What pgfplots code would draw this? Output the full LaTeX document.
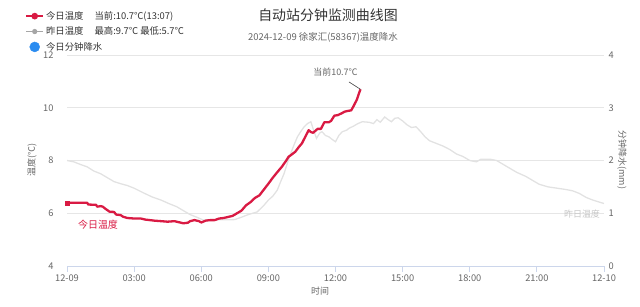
\documentclass[border=0pt]{standalone}
\usepackage{fontspec}
\setmainfont{Noto Sans CJK SC}
\usepackage{pgfplots}
\pgfplotsset{compat=1.18}
\definecolor{todayred}{HTML}{D91A43}
\definecolor{yestgray}{HTML}{E2E2E2}
\definecolor{gridc}{HTML}{E6E6E6}
\definecolor{axisc}{HTML}{CCD6EB}
\definecolor{txt}{HTML}{666666}
\definecolor{dark}{HTML}{333333}
\definecolor{rainblue}{HTML}{2B8CF0}
\begin{document}
\begin{tikzpicture}
\path[use as bounding box] (0bp,0bp) rectangle (640bp,307bp);
\begin{axis}[at={(67bp,41bp)}, anchor=south west, scale only axis,
  width=537bp, height=211bp,
  xmin=0, xmax=24, ymin=4, ymax=12,
  xtick={0,3,6,9,12,15,18,21,24},
  xticklabels={12-09,03:00,06:00,09:00,12:00,15:00,18:00,21:00,12-10},
  ytick={4,6,8,10,12},
  /pgf/number format/assume math mode=true,
  axis line style={draw=none},
  xtick pos=lower, ytick pos=left,
  xtick align=outside,
  major tick length=6bp,
  x tick style={axisc, line width=0.8bp},
  y tick style={draw=none},
  ymajorgrids, grid style={gridc, line width=0.8bp},
  xticklabel style={font=\fontsize{9.3}{10}\selectfont, text=txt, yshift=1bp},
  yticklabel style={font=\fontsize{9.3}{10}\selectfont, text=txt, xshift=-10bp},
  clip=false,
  legend style={at={(-0.078,1.217)}, anchor=north west, draw=none, fill=none,
    font=\fontsize{9.4}{10.5}\selectfont, text=dark, row sep=2bp,
    cells={anchor=west}, inner sep=0pt},
  legend cell align=left,
]
\addlegendimage{todayred, line width=1.8bp, mark=*, mark size=2.4bp}
\addlegendentry{今日温度\hspace{11bp}当前:10.7℃(13:07)}
\addlegendimage{black!35, line width=1.2bp, mark=*, mark size=2bp}
\addlegendentry{昨日温度\hspace{11bp}最高:9.7℃ 最低:5.7℃}
\addlegendimage{only marks, mark=*, rainblue, mark size=5bp}
\addlegendentry{今日分钟降水}
\draw[axisc, line width=0.8bp] (axis cs:0,4) -- (axis cs:24,4);
% yesterday
\addplot[yestgray, line width=1.3bp, forget plot] coordinates {
(0.0,8.00)(0.3,7.95)(0.6,7.85)(0.9,7.76)(1.2,7.60)(1.5,7.50)(1.8,7.35)(2.1,7.20)
(2.4,7.12)(2.7,7.05)(3.0,6.95)(3.4,6.78)(3.8,6.62)(4.2,6.50)(4.6,6.35)(4.9,6.25)
(5.2,6.10)(5.5,5.95)(5.8,5.85)(6.1,5.74)(6.5,5.75)(7.0,5.75)(7.5,5.76)(7.8,5.85)
(8.1,5.95)(8.5,6.05)(8.8,6.30)(9.0,6.50)(9.2,6.65)(9.4,6.88)(9.55,7.20)(9.7,7.50)
(9.85,7.90)(10.0,8.27)(10.15,8.60)(10.3,8.90)(10.45,9.10)(10.6,9.28)(10.75,9.40)
(10.9,9.47)(11.0,9.20)(11.15,8.84)(11.3,9.05)(11.4,9.09)(11.55,8.95)(11.7,8.90)
(11.85,8.80)(12.0,8.71)(12.15,8.95)(12.3,9.09)(12.5,9.15)(12.6,9.22)(12.8,9.30)
(13.0,9.40)(13.2,9.47)(13.5,9.45)(13.7,9.40)(13.85,9.55)(14.0,9.45)(14.2,9.65)
(14.35,9.55)(14.5,9.47)(14.65,9.60)(14.8,9.62)(15.0,9.50)(15.2,9.35)(15.4,9.25)
(15.6,9.28)(15.8,9.10)(16.0,8.90)(16.2,8.75)(16.5,8.65)(16.8,8.55)(17.1,8.42)
(17.4,8.25)(17.7,8.15)(18.0,8.00)(18.3,7.95)(18.5,8.05)(18.9,8.05)(19.2,8.00)
(19.5,7.85)(19.8,7.70)(20.1,7.55)(20.5,7.40)(20.8,7.25)(21.1,7.10)(21.5,7.00)
(21.9,6.95)(22.3,6.90)(22.6,6.85)(22.9,6.75)(23.2,6.60)(23.5,6.50)(23.8,6.42)(24.0,6.37)
};
% today
\addplot[todayred, line width=2.3bp, forget plot, line join=round] coordinates {
(0.0,6.38)(0.1,6.40)(0.9,6.40)(0.95,6.33)(1.3,6.32)(1.35,6.25)(1.5,6.27)(1.6,6.25)
(1.7,6.18)(1.8,6.12)(1.9,6.06)(2.1,6.05)(2.2,5.95)(2.4,5.93)(2.5,5.87)(2.7,5.82)
(3.0,5.80)(3.3,5.80)(3.5,5.76)(3.9,5.72)(4.2,5.70)(4.5,5.68)(4.8,5.70)(5.0,5.66)
(5.2,5.62)(5.4,5.64)(5.5,5.70)(5.7,5.74)(5.9,5.70)(6.0,5.65)(6.2,5.72)(6.4,5.74)
(6.6,5.74)(6.8,5.80)(7.0,5.82)(7.2,5.86)(7.4,5.90)(7.6,6.00)(7.8,6.10)(8.0,6.30)
(8.2,6.42)(8.4,6.58)(8.6,6.68)(8.8,6.90)(9.0,7.12)(9.2,7.35)(9.4,7.56)(9.6,7.76)
(9.8,8.00)(9.9,8.14)(10.0,8.20)(10.2,8.33)(10.35,8.50)(10.5,8.65)(10.65,8.90)
(10.8,9.15)(10.9,9.08)(11.0,9.05)(11.2,9.20)(11.35,9.20)(11.5,9.45)(11.7,9.45)
(11.8,9.50)(11.95,9.70)(12.1,9.72)(12.3,9.80)(12.4,9.85)(12.55,9.88)(12.7,9.90)
(12.8,10.05)(12.95,10.30)(13.05,10.55)(13.117,10.70)
};
\addplot[todayred, only marks, mark=square*, mark size=1.8bp, forget plot] coordinates {(0.0,6.38)};
\draw[black!75, line width=0.6bp] (axis cs:12.6,10.98) -- (axis cs:13.117,10.70);
\node[font=\fontsize{9}{10}\selectfont, text=txt] at (axis cs:12.0,11.35) {当前10.7℃};
\end{axis}
\begin{axis}[at={(67bp,41bp)}, anchor=south west, scale only axis,
  width=537bp, height=211bp,
  xmin=0, xmax=24, ymin=0, ymax=4,
  ytick={0,1,2,3,4},
  /pgf/number format/assume math mode=true,
  axis line style={draw=none},
  hide x axis,
  ytick pos=right,
  y tick style={draw=none},
  yticklabel style={font=\fontsize{9.3}{10}\selectfont, text=txt, xshift=1bp},
]
\end{axis}
\node[font=\fontsize{14}{16}\selectfont, text=dark] at (328bp,292bp) {自动站分钟监测曲线图};
\node[font=\fontsize{9.5}{11}\selectfont, text=txt] at (323bp,270bp) {2024-12-09 徐家汇(58367)温度降水};
\node[font=\fontsize{9}{10}\selectfont, text=txt, rotate=90] at (32bp,147bp) {温度(℃)};
\node[font=\fontsize{9}{10}\selectfont, text=txt, rotate=-90] at (622bp,147bp) {分钟降水(mm)};
\node[font=\fontsize{10}{11}\selectfont, text=todayred] at (98bp,82bp) {今日温度};
\node[font=\fontsize{9}{10}\selectfont, text=black!22] at (582bp,93bp) {昨日温度};
\node[font=\fontsize{9}{10}\selectfont, text=txt] at (320bp,16bp) {时间};
\end{tikzpicture}
\end{document}
